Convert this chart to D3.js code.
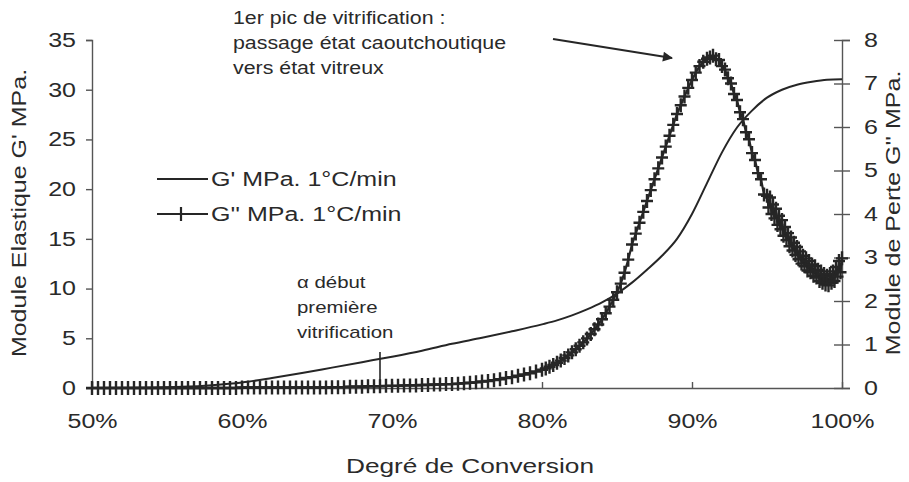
<!DOCTYPE html>
<html>
<head>
<meta charset="utf-8">
<script src="https://cdn.jsdelivr.net/npm/d3@7"></script>
<style>
  body { margin: 0; background: #fff; }
  text { font-family: "Liberation Sans", Arial, sans-serif; fill: #2a2a2a; }
</style>
</head>
<body>
<div id="chart"></div>
<script>
// degré de conversion (%) and G' (MPa, left axis)
const gpConv = [50, 52, 54, 56, 58, 60, 62, 64, 66, 68, 70, 72, 74, 76, 78, 80, 81, 82, 83, 84,
                85, 86, 87, 88, 89, 90, 91, 92, 93, 94, 95, 96, 97, 98, 99, 100];
const gpVal  = [0, 0.02, 0.05, 0.12, 0.28, 0.55, 1.0, 1.5, 2.05, 2.6, 3.15, 3.75, 4.45, 5.05, 5.7, 6.4, 6.8, 7.3, 7.9, 8.6,
                9.5, 10.6, 11.9, 13.3, 15.0, 17.5, 20.6, 23.7, 26.2, 27.9, 29.2, 30.0, 30.5, 30.8, 31.0, 31.05];

// G'' (MPa, right axis), one entry per measured point
const gppConv = [
  50.0, 50.4, 50.8, 51.2, 51.6, 52.0, 52.4, 52.8, 53.2, 53.6, 54.0, 54.4, 54.8, 55.2, 55.6, 56.0, 56.4, 56.8, 57.2, 57.6,
  58.0, 58.4, 58.8, 59.2, 59.6, 60.0, 60.4, 60.8, 61.2, 61.6, 62.0, 62.4, 62.8, 63.2, 63.6, 64.0, 64.4, 64.8, 65.2, 65.6,
  66.0, 66.4, 66.8, 67.2, 67.6, 68.0, 68.4, 68.8, 69.2, 69.6, 70.0,
  70.4, 70.8, 71.2, 71.6, 72.0, 72.4, 72.8, 73.2, 73.6, 74.0, 74.4, 74.8, 75.2, 75.6, 76.0, 76.4, 76.8, 77.2, 77.6, 78.0,
  78.4, 78.8, 79.2, 79.6, 80.0,
  80.25, 80.5, 80.75, 81.0, 81.25, 81.5, 81.75, 82.0, 82.25, 82.5, 82.75, 83.0, 83.25, 83.5, 83.75, 84.0, 84.25, 84.5, 84.75, 85.0,
  85.25, 85.5, 85.75, 86.0, 86.25, 86.5, 86.75, 87.0, 87.25, 87.5, 87.75, 88.0, 88.25, 88.5, 88.75, 89.0, 89.25, 89.5, 89.75, 90.0,
  90.25, 90.5, 90.75, 91.0,
  91.2, 91.4, 91.6, 91.8, 92.0, 92.2, 92.4, 92.6, 92.8, 93.0, 93.2, 93.4, 93.6, 93.8, 94.0, 94.2, 94.4, 94.6, 94.8,
  95.0, 95.1, 95.2, 95.3, 95.4, 95.5, 95.6, 95.7, 95.8, 95.9, 96.0, 96.1, 96.2, 96.3, 96.4, 96.5, 96.6, 96.7, 96.8, 96.9,
  97.0, 97.1, 97.2, 97.3, 97.4, 97.5, 97.6, 97.7, 97.8, 97.9, 98.0, 98.1, 98.2, 98.3, 98.4, 98.5, 98.6, 98.7, 98.8, 98.9,
  99.0, 99.1, 99.2, 99.3, 99.4, 99.5, 99.6, 99.7, 99.8, 99.9, 100.0
];
const gppVal = [
  0, 0, 0, 0, 0, 0, 0, 0, 0, 0, 0, 0, 0, 0, 0, 0, 0, 0, 0, 0,
  0, 0, 0, 0, 0, 0.01, 0.01, 0.01, 0.01, 0.01, 0.01, 0.01, 0.01, 0.01, 0.01, 0.01, 0.01, 0.01, 0.01, 0.01,
  0.02, 0.02, 0.02, 0.03, 0.03, 0.03, 0.04, 0.04, 0.04, 0.05, 0.05,
  0.05, 0.06, 0.06, 0.06, 0.07, 0.07, 0.08, 0.08, 0.09, 0.09, 0.10, 0.11, 0.12, 0.13, 0.15, 0.16, 0.18, 0.20, 0.23, 0.25,
  0.28, 0.31, 0.34, 0.38, 0.42,
  0.45, 0.49, 0.53, 0.58, 0.63, 0.69, 0.75, 0.82, 0.89, 0.97, 1.05, 1.14, 1.24, 1.35, 1.46, 1.58, 1.72, 1.87, 2.03, 2.2,
  2.4, 2.65, 2.95, 3.3, 3.55, 3.8, 4.05, 4.3, 4.55, 4.8, 5.05, 5.3, 5.55, 5.8, 6.05, 6.3, 6.5, 6.7, 6.9, 7.08,
  7.25, 7.4, 7.5, 7.57,
  7.6, 7.64, 7.56, 7.54, 7.4, 7.32, 7.12, 7.0, 6.76, 6.62, 6.34, 6.18, 5.88, 5.72, 5.4, 5.24, 4.94, 4.8, 4.45,
  4.42, 4.15, 4.38, 4.0, 4.22, 3.9, 4.12, 3.75, 3.96, 3.65, 3.86, 3.5, 3.7, 3.4, 3.56, 3.26, 3.46, 3.16, 3.34, 3.06,
  3.24, 2.96, 3.14, 2.86, 3.04, 2.8, 2.98, 2.7, 2.92, 2.66, 2.84, 2.58, 2.8, 2.54, 2.72, 2.46, 2.68, 2.42, 2.62, 2.38,
  2.58, 2.36, 2.62, 2.42, 2.68, 2.46, 2.78, 2.56, 2.92, 2.66, 2.98
];

const xTicks = [50, 60, 70, 80, 90, 100];
const leftTicks = [0, 5, 10, 15, 20, 25, 30, 35];
const rightTicks = [0, 1, 2, 3, 4, 5, 6, 7, 8];
const alphaConv = 69.2;

const W = 909, H = 482;
const M = { top: 40, right: 67, bottom: 94, left: 92 };
const INK = "#262626", AXIS = "#555";
const STRETCH = 1.25;

const svg = d3.select("#chart").append("svg")
    .attr("width", W).attr("height", H);

const x  = d3.scaleLinear().domain([50, 100]).range([M.left, W - M.right]);
const yL = d3.scaleLinear().domain([0, 35]).range([H - M.bottom, M.top]);
const yR = d3.scaleLinear().domain([0, 8]).range([H - M.bottom, M.top]);

// widen glyphs like the scanned original
function widen(sel, k) {
    sel.each(function() {
        const w = this.getComputedTextLength();
        d3.select(this).attr("textLength", w * (k || STRETCH)).attr("lengthAdjust", "spacingAndGlyphs");
    });
}

// axes
const gx = svg.append("g")
    .attr("transform", `translate(0,${H - M.bottom})`)
    .call(d3.axisBottom(x).tickValues(xTicks).tickSizeInner(-6).tickSizeOuter(0)
        .tickPadding(26).tickFormat(d => d + "%"));
const gl = svg.append("g")
    .attr("transform", `translate(${M.left},0)`)
    .call(d3.axisLeft(yL).tickValues(leftTicks).tickSize(6).tickPadding(10));
const gr = svg.append("g")
    .attr("transform", `translate(${W - M.right},0)`)
    .call(d3.axisRight(yR).tickValues(rightTicks).tickSize(8).tickPadding(14));
gr.selectAll(".tick line").attr("x1", -8);

[gx, gl, gr].forEach(g => {
    g.selectAll("path, line").attr("stroke", AXIS).attr("stroke-width", 1.4);
    g.selectAll("text").attr("font-size", 20).attr("fill", "#2a2a2a")
        .style("font-family", '"Liberation Sans", Arial, sans-serif');
    widen(g.selectAll("text"));
});

// G' line
const gpData = gpConv.map((c, i) => [c, gpVal[i]]);
svg.append("path")
    .datum(gpData)
    .attr("fill", "none").attr("stroke", INK).attr("stroke-width", 2)
    .attr("d", d3.line().x(d => x(d[0])).y(d => yL(d[1])).curve(d3.curveMonotoneX));

// G'' line + crosses
const gppData = gppConv.map((c, i) => [c, gppVal[i]]);
svg.append("path")
    .datum(gppData)
    .attr("fill", "none").attr("stroke", INK).attr("stroke-width", 2.2)
    .attr("d", d3.line().x(d => x(d[0])).y(d => yR(d[1])));
const cross = "M-6,0H6M0,-7V7";
svg.append("g").selectAll("path")
    .data(gppData)
    .join("path")
    .attr("d", cross)
    .attr("transform", d => `translate(${x(d[0])},${yR(d[1])})`)
    .attr("stroke", INK).attr("stroke-width", 2.4).attr("fill", "none");

// alpha marker
svg.append("line")
    .attr("x1", x(alphaConv)).attr("x2", x(alphaConv))
    .attr("y1", yL(0)).attr("y2", yL(0) - 36)
    .attr("stroke", INK).attr("stroke-width", 1.6);

// legend
const leg = svg.append("g");
leg.append("line").attr("x1", 157).attr("x2", 208).attr("y1", 179).attr("y2", 179)
    .attr("stroke", INK).attr("stroke-width", 2);
leg.append("line").attr("x1", 157).attr("x2", 208).attr("y1", 214).attr("y2", 214)
    .attr("stroke", INK).attr("stroke-width", 1.8);
leg.append("path").attr("d", cross).attr("transform", "translate(181,214)")
    .attr("stroke", INK).attr("stroke-width", 2.2);
leg.append("text").attr("x", 211).attr("y", 186).attr("font-size", 20).text("G' MPa. 1°C/min");
leg.append("text").attr("x", 211).attr("y", 221).attr("font-size", 20).text("G'' MPa. 1°C/min");
widen(leg.selectAll("text"));

// axis titles
const tl = svg.append("text").attr("font-size", 20).attr("text-anchor", "middle")
    .attr("transform", "translate(26,213) rotate(-90)").text("Module Elastique G' MPa.");
const tr = svg.append("text").attr("font-size", 20).attr("text-anchor", "middle")
    .attr("transform", "translate(900,213) rotate(-90)").text("Module de Perte G'' MPa.");
const tb = svg.append("text").attr("font-size", 21).attr("text-anchor", "middle")
    .attr("x", 470).attr("y", 473).text("Degré de Conversion");
[tl, tr, tb].forEach(t => widen(t));

// annotations
const note1 = ["1er pic de vitrification :", "passage état caoutchoutique", "vers état vitreux"];
const n1 = svg.append("g");
note1.forEach((s, i) => n1.append("text").attr("x", 233).attr("y", 24 + i * 25).attr("font-size", 17.5).text(s));
widen(n1.selectAll("text"), 1.22);

const note2 = ["α début", "première", "vitrification"];
const n2 = svg.append("g");
note2.forEach((s, i) => n2.append("text").attr("x", 297).attr("y", 288 + i * 25).attr("font-size", 17).text(s));
widen(n2.selectAll("text"), 1.2);

// arrow
svg.append("defs").append("marker")
    .attr("id", "head").attr("viewBox", "0 0 10 10").attr("refX", 9).attr("refY", 5)
    .attr("markerWidth", 14).attr("markerHeight", 10).attr("markerUnits", "userSpaceOnUse")
    .attr("orient", "auto")
    .append("path").attr("d", "M0,0L10,5L0,10Z").attr("fill", INK);
svg.append("line")
    .attr("x1", 553).attr("y1", 39).attr("x2", 672).attr("y2", 58)
    .attr("stroke", INK).attr("stroke-width", 2).attr("marker-end", "url(#head)");
</script>
</body>
</html>
